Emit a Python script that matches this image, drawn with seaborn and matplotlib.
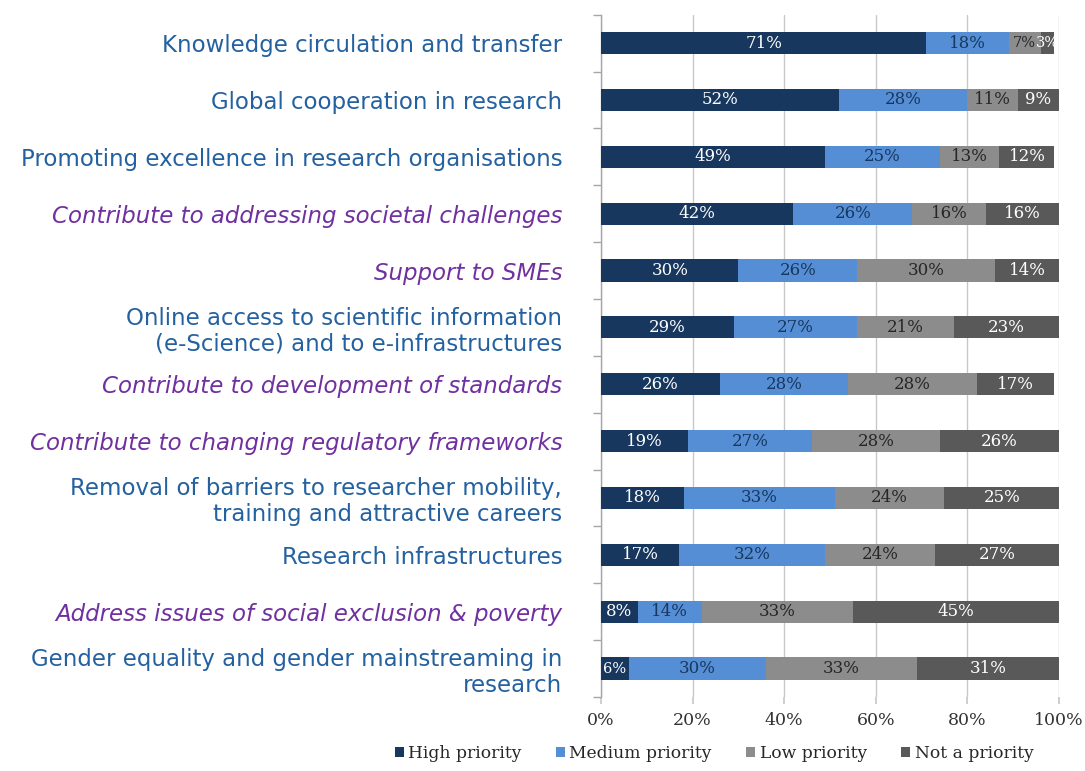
import matplotlib
matplotlib.use("Agg")
import matplotlib.pyplot as plt
import seaborn as sns
import numpy as np
import pandas as pd
from matplotlib.patches import Patch

categories = [
    "Knowledge circulation and transfer",
    "Global cooperation in research",
    "Promoting excellence in research organisations",
    "Contribute to addressing societal challenges",
    "Support to SMEs",
    "Online access to scientific information\n(e-Science) and to e-infrastructures",
    "Contribute to development of standards",
    "Contribute to changing regulatory frameworks",
    "Removal of barriers to researcher mobility,\ntraining and attractive careers",
    "Research infrastructures",
    "Address issues of social exclusion & poverty",
    "Gender equality and gender mainstreaming in\nresearch",
]
# categories shown in purple italics
highlighted = [False, False, False, True, True, False, True, True, False, False, True, False]

series = ["High priority", "Medium priority", "Low priority", "Not a priority"]
high = [71, 52, 49, 42, 30, 29, 26, 19, 18, 17, 8, 6]
medium = [18, 28, 25, 26, 26, 27, 28, 27, 33, 32, 14, 30]
low = [7, 11, 13, 16, 30, 21, 28, 28, 24, 24, 33, 33]
not_priority = [3, 9, 12, 16, 14, 23, 17, 26, 25, 27, 45, 31]

bar_colors = ["#17375E", "#558ED5", "#8C8C8C", "#595959"]
text_colors = ["#FFFFFF", "#17375E", "#262626", "#FFFFFF"]

df = pd.DataFrame({"category": categories,
                   series[0]: high, series[1]: medium,
                   series[2]: low, series[3]: not_priority})
values = df[series].to_numpy(dtype=float)
cum = np.cumsum(values, axis=1)

sns.set_theme(style="white")
fig = plt.figure(figsize=(10.85, 7.71), dpi=100)
ax = fig.add_axes([0.554, 0.096, 0.422, 0.885])

# Stacked bars: draw cumulative totals from the last series backwards
for k in reversed(range(len(series))):
    sns.barplot(x=cum[:, k], y=df["category"], color=bar_colors[k],
                orient="h", width=0.39, saturation=1, ax=ax, zorder=3,
                linewidth=0)

# Segment value labels (narrow segments get a slightly smaller font)
for i in range(len(categories)):
    for k in range(len(series)):
        v = values[i, k]
        left = cum[i, k] - v
        size = 10.5 if v < 8 else 12
        ax.text(left + v / 2, i, f"{int(v)}%", ha="center", va="center",
                color=text_colors[k], fontsize=size,
                family="DejaVu Serif", zorder=4)

ax.set_xlim(0, 100)
ax.set_ylim(len(categories) - 0.5, -0.5)
ax.set_xticks(np.arange(0, 101, 20))
ax.set_xticklabels([f"{t}%" for t in range(0, 101, 20)],
                   family="DejaVu Serif", fontsize=12.5, color="#333333")
ax.xaxis.grid(True, color="#C8C8C8", linewidth=1, zorder=0)
ax.set_axisbelow(True)

# Category ticks sit between bars; labels sit at bar centres
ax.set_yticks(np.arange(len(categories)))
ax.set_yticklabels(categories)
ax.set_yticks(np.arange(-0.5, len(categories)), minor=True)
ax.tick_params(axis="y", which="major", length=0, pad=28)
ax.tick_params(axis="y", which="minor", length=6, width=1, color="#A6A6A6",
               direction="out", left=True)
ax.tick_params(axis="x", length=5, color="#C8C8C8", direction="out",
               bottom=True, pad=6)
for lbl, hl in zip(ax.get_yticklabels(), highlighted):
    lbl.set_fontsize(16.5)
    lbl.set_family("DejaVu Sans")
    lbl.set_linespacing(1.15)
    if hl:
        lbl.set_color("#7030A0")
        lbl.set_style("italic")
    else:
        lbl.set_color("#2461A0")

ax.set_xlabel("")
ax.set_ylabel("")
for side in ["top", "right", "bottom"]:
    ax.spines[side].set_visible(False)
ax.spines["left"].set_color("#A6A6A6")
ax.spines["left"].set_linewidth(1)

handles = [Patch(facecolor=c, edgecolor="none") for c in bar_colors]
fig.legend(handles, series, loc="lower center", bbox_to_anchor=(0.658, -0.008),
           ncol=4, frameon=False, handlelength=0.55, handleheight=0.55,
           handletextpad=0.25, columnspacing=2.0,
           prop={"family": "DejaVu Serif", "size": 12.3})

fig.savefig("out.png", dpi=100)
